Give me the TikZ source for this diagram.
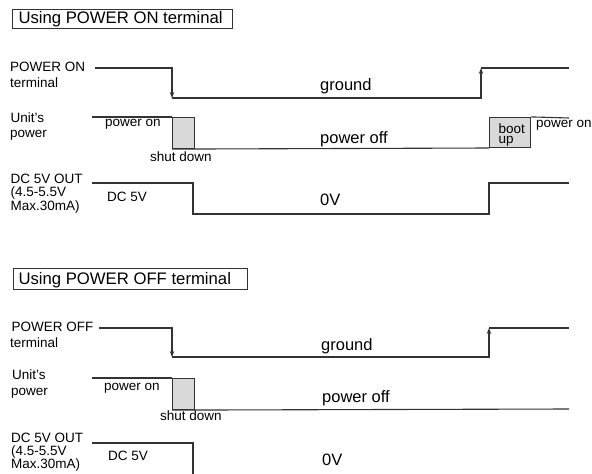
\documentclass[tikz,border=0pt]{standalone}
\usepackage{fontspec}
\setmainfont{Liberation Sans}
\usetikzlibrary{arrows.meta}
\definecolor{ln}{rgb}{0.2,0.2,0.2}
\definecolor{shade}{rgb}{0.85,0.85,0.85}
\tikzset{
  titletext/.style={anchor=base west, inner sep=0pt, font=\fontsize{16.7}{18}\selectfont},
  titlebox/.style={draw=ln, line width=0.9pt, anchor=north west, inner sep=0pt},
  biglbl/.style={anchor=base west, inner sep=0pt, font=\fontsize{16.5}{18}\selectfont},
  smalllbl/.style={anchor=base west, inner sep=0pt, font=\fontsize{13.5}{15}\selectfont},
  wave/.style={draw=ln, line width=1.1pt},
  arr/.style={wave, -{Stealth[length=6pt,width=4.5pt]}},
  pulse/.style={draw=ln, line width=1.1pt, fill=shade}
}
\begin{document}
\begin{tikzpicture}[x=1pt,y=-1pt]
\useasboundingbox (0,0) rectangle (592,474);
\clip (0,0) rectangle (592,474);

% ---------- Block 1 ----------
\node[titlebox, minimum width=220pt, minimum height=19pt] (box1) at (12,9) {};
\node[titletext] (title1) at (18.3,23.3) {Using POWER ON terminal};

\node[smalllbl] (pon) at (10,71) {POWER ON};
\node[smalllbl] (pont) at (10,87) {terminal};
\node[smalllbl] (un1) at (10.5,122) {Unit's};
\node[smalllbl] (up1) at (10,137.5) {power};
\node[smalllbl] (dc1) at (10.5,183) {DC 5V OUT};
\node[smalllbl] (dcr1) at (10.5,196.5) {(4.5-5.5V};
\node[smalllbl] (dcm1) at (10.5,210) {Max.30mA)};

\coordinate (a0) at (95,68);
\coordinate (a1) at (172,98);
\coordinate (a2) at (481,68);
\coordinate (a3) at (569,68);
\draw[arr] (a0) -| (a1);
\draw[arr] (a1) -| (a2);
\draw[wave] (a2) -- (a3);

\coordinate (b0) at (92,117);
\coordinate (b1) at (172,117);
\draw[wave] (b0) -- (b1);
\node[pulse, anchor=north west, minimum width=22pt, minimum height=31pt, inner sep=0pt] (sd1) at (172,117) {};
\draw[wave] (sd1.south west) -- (489,148) coordinate (b3);
\node[pulse, anchor=south west, minimum width=41pt, minimum height=30pt, inner sep=0pt] (bu1) at (b3) {};
\draw[wave] (bu1.north east) -- (569,118) coordinate (b4);

\coordinate (c0) at (92,183);
\coordinate (c1) at (193,214);
\coordinate (c2) at (489,183);
\coordinate (c3) at (569,183);
\draw[wave] (c0) -| (c1) -| (c2) -- (c3);

\node[biglbl] (gnd1) at (320,90) {ground};
\node[biglbl] (poff1) at (320,143) {power off};
\node[biglbl] (zv1) at (320,205) {0V};
\node[smalllbl] (pwon1) at (105,126.5) {power on};
\node[smalllbl] (shd1) at (150,161.5) {shut down};
\node[smalllbl] (dcv1) at (107,201.5) {DC 5V};
\node[anchor=north west, inner sep=0pt, align=left, font=\fontsize{13.5}{9.5}\selectfont] (boot1) at (498.5,124) {boot\\up};
\node[smalllbl] (pwon1r) at (536,127) {power on};

% ---------- Block 2 ----------
\node[titlebox, minimum width=234pt, minimum height=21pt] (box2) at (13,268) {};
\node[titletext] (title2) at (18.3,284) {Using POWER OFF terminal};

\node[smalllbl] (poff) at (11.5,331) {POWER OFF};
\node[smalllbl] (pofft) at (10,347) {terminal};
\node[smalllbl] (un2) at (12,379) {Unit's};
\node[smalllbl] (up2) at (11,395) {power};
\node[smalllbl] (dc2) at (11,442) {DC 5V OUT};
\node[smalllbl] (dcr2) at (11,455) {(4.5-5.5V};
\node[smalllbl] (dcm2) at (11,468) {Max.30mA)};

\coordinate (d0) at (99,328);
\coordinate (d1) at (172,357);
\coordinate (d2) at (489,328);
\coordinate (d3) at (569,328);
\draw[arr] (d0) -| (d1);
\draw[arr] (d1) -| (d2);
\draw[wave] (d2) -- (d3);

\coordinate (e0) at (92,378);
\coordinate (e1) at (172,378);
\draw[wave] (e0) -- (e1);
\node[pulse, anchor=north west, minimum width=22pt, minimum height=31pt, inner sep=0pt] (sd2) at (172,378) {};
\draw[wave] (sd2.south west) -- (569,409) coordinate (e2);

\coordinate (f0) at (92,443);
\coordinate (f1) at (193,474.5);
\coordinate (f2) at (569,474.5);
\draw[wave] (f0) -| (f1) -- (f2);

\node[biglbl] (gnd2) at (321,350) {ground};
\node[biglbl] (poff2) at (322,402) {power off};
\node[biglbl] (zv2) at (322,465) {0V};
\node[smalllbl] (pwon2) at (104,390.5) {power on};
\node[smalllbl] (shd2) at (160,420) {shut down};
\node[smalllbl] (dcv2) at (108,460) {DC 5V};
\end{tikzpicture}
\end{document}
